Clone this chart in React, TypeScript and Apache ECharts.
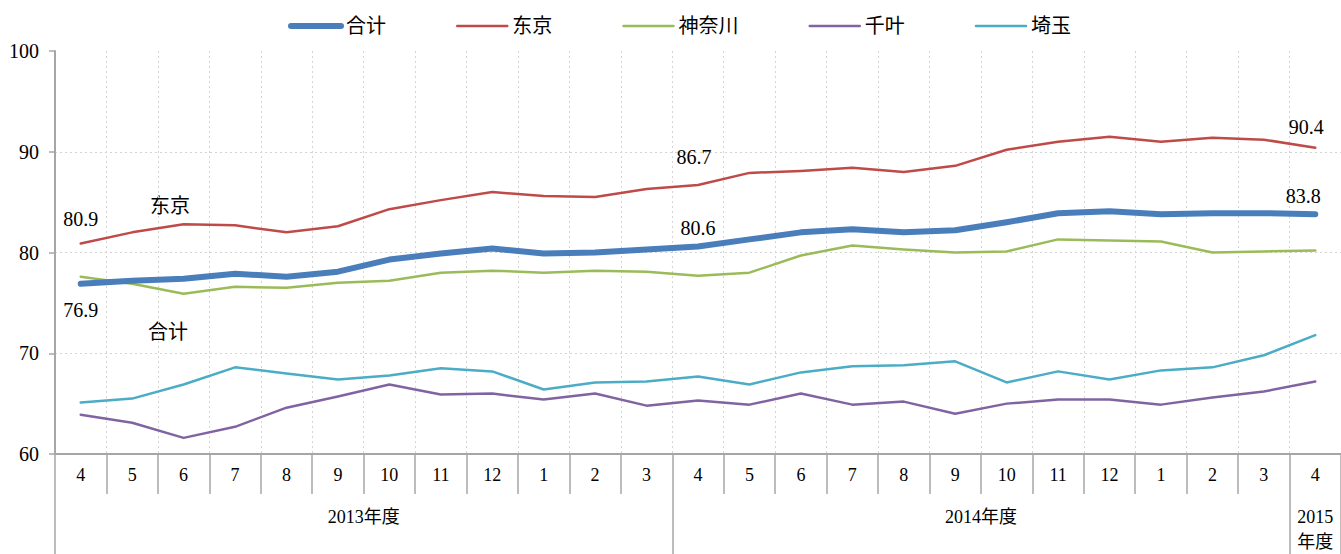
import React, { useEffect, useRef } from "react";
import * as echarts from "echarts";

const months = ["4","5","6","7","8","9","10","11","12","1","2","3","4","5","6","7","8","9","10","11","12","1","2","3","4"];
const yearLabels = ["2013年度", "2014年度", "2015\n年度"];
const yearStarts = [0, 12, 24];
const yearSpans = [12, 12, 1];

const total = [76.9,77.2,77.4,77.9,77.6,78.1,79.3,79.9,80.4,79.9,80.0,80.3,80.6,81.3,82.0,82.3,82.0,82.2,83.0,83.9,84.1,83.8,83.9,83.9,83.8];
const tokyo = [80.9,82.0,82.8,82.7,82.0,82.6,84.3,85.2,86.0,85.6,85.5,86.3,86.7,87.9,88.1,88.4,88.0,88.6,90.2,91.0,91.5,91.0,91.4,91.2,90.4];
const kanagawa = [77.6,76.9,75.9,76.6,76.5,77.0,77.2,78.0,78.2,78.0,78.2,78.1,77.7,78.0,79.7,80.7,80.3,80.0,80.1,81.3,81.2,81.1,80.0,80.1,80.2];
const chiba = [63.9,63.1,61.6,62.7,64.6,65.7,66.9,65.9,66.0,65.4,66.0,64.8,65.3,64.9,66.0,64.9,65.2,64.0,65.0,65.4,65.4,64.9,65.6,66.2,67.2];
const saitama = [65.1,65.5,66.9,68.6,68.0,67.4,67.8,68.5,68.2,66.4,67.1,67.2,67.7,66.9,68.1,68.7,68.8,69.2,67.1,68.2,67.4,68.3,68.6,69.8,71.8];

const seriesNames = ["合计", "东京", "神奈川", "千叶", "埼玉"];
const colors = ["#4a7ebb", "#be4b48", "#9bbb59", "#8064a2", "#4bacc6"];
const lineWidths = [6, 2.5, 2.5, 2.5, 2.5];

const FONT = "'Liberation Serif', 'Noto Sans CJK JP', serif";

// label placement per labeled point: [position, distance, dx]
const tokyoLabels: Record<number, [string, number, number]> = { 0: ["top", 14, 0], 12: ["top", 18, -4], 24: ["top", 11, -9] };
const totalLabels: Record<number, [string, number, number]> = { 0: ["bottom", 16, 0], 12: ["top", 8, 0], 24: ["top", 8, -12] };

function withLabels(values: number[], spec: Record<number, [string, number, number]>) {
  return values.map((v, i) => {
    const s = spec[i];
    if (!s) return v;
    return {
      value: v,
      symbol: "circle",
      symbolSize: 0,
      label: {
        show: true,
        position: s[0],
        distance: s[1],
        offset: [s[2], 0],
        formatter: (p: any) => Number(p.value).toFixed(1),
        fontFamily: FONT,
        fontSize: 20,
        color: "#000",
      },
    };
  });
}

export default function App() {
  const ref = useRef<HTMLDivElement>(null);
  useEffect(() => {
    document.body.style.margin = "0";
    const chart = echarts.init(ref.current!, null, { renderer: "svg" });
    const axisGrey = "#a6a6a6";
    const lineSeries = (idx: number, data: any[]) => ({
      name: seriesNames[idx],
      type: "line",
      data,
      symbol: "none",
      showSymbol: true,
      color: colors[idx],
      lineStyle: { color: colors[idx], width: lineWidths[idx], cap: "round", join: "round" },
      emphasis: { disabled: true },
      z: idx === 0 ? 3 : 2,
    });
    chart.setOption({
      animation: false,
      textStyle: { fontFamily: FONT },
      legend: {
        left: 283,
        top: 11,
        itemWidth: 50,
        itemHeight: 14,
        itemGap: 70,
        itemStyle: { color: "transparent", borderColor: "transparent", borderWidth: 0, opacity: 0 },
        textStyle: { fontFamily: FONT, fontSize: 20, color: "#000" },
        data: seriesNames.map((name, i) => ({
          name,
          lineStyle: { color: colors[i], width: lineWidths[i], cap: "round" },
        })),
      },
      grid: { left: 55, top: 51, width: 1288, height: 406, containLabel: false },
      xAxis: [
        {
          type: "category",
          data: months,
          boundaryGap: true,
          position: "bottom",
          axisLine: { show: true, lineStyle: { color: axisGrey, width: 2 } },
          axisTick: { show: true, interval: 0, length: 40, lineStyle: { color: axisGrey, width: 1.5 } },
          axisLabel: { interval: 0, margin: 12, fontFamily: FONT, fontSize: 18, color: "#000" },
          splitLine: { show: true, interval: 0, lineStyle: { color: "#d4d4d4", type: [2, 3], width: 1 } },
        },
        {
          type: "value",
          min: 0,
          max: yearSpans.reduce((a, b) => a + b, 0),
          position: "bottom",
          offset: 40,
          axisLine: { show: false },
          axisTick: {
            show: true,
            length: 60,
            customValues: [...yearStarts, yearSpans.reduce((a, b) => a + b, 0)],
            lineStyle: { color: axisGrey, width: 1.5 },
          },
          axisLabel: {
            show: true,
            margin: 10,
            customValues: yearStarts.map((s, i) => s + yearSpans[i] / 2),
            formatter: (v: number) => {
              const idx = yearStarts.findIndex((s, i) => Math.abs(s + yearSpans[i] / 2 - v) < 1e-6);
              return idx >= 0 ? yearLabels[idx] : "";
            },
            fontFamily: FONT,
            fontSize: 18,
            lineHeight: 25,
            color: "#000",
          },
          splitLine: { show: false },
        },
      ],
      yAxis: {
        type: "value",
        min: 60,
        max: 100,
        interval: 10,
        axisLine: { show: true, lineStyle: { color: axisGrey, width: 2 } },
        axisTick: { show: true, length: 6, lineStyle: { color: axisGrey, width: 1.5 } },
        axisLabel: { margin: 16, fontFamily: FONT, fontSize: 20, color: "#000" },
        splitLine: { show: true, showMaxLine: false, showMinLine: false, lineStyle: { color: "#d4d4d4", type: [2, 3], width: 1 } },
      },
      graphic: [
        { type: "text", left: 150, top: 196, style: { text: "东京", fontFamily: FONT, fontSize: 20, fill: "#000" } },
        { type: "text", left: 148, top: 322, style: { text: "合计", fontFamily: FONT, fontSize: 20, fill: "#000" } },
      ],
      series: [
        lineSeries(0, withLabels(total, totalLabels)),
        lineSeries(1, withLabels(tokyo, tokyoLabels)),
        lineSeries(2, kanagawa),
        lineSeries(3, chiba),
        lineSeries(4, saitama),
      ],
    });
    return () => chart.dispose();
  }, []);
  return <div ref={ref} style={{ width: 1341, height: 554 }} />;
}
